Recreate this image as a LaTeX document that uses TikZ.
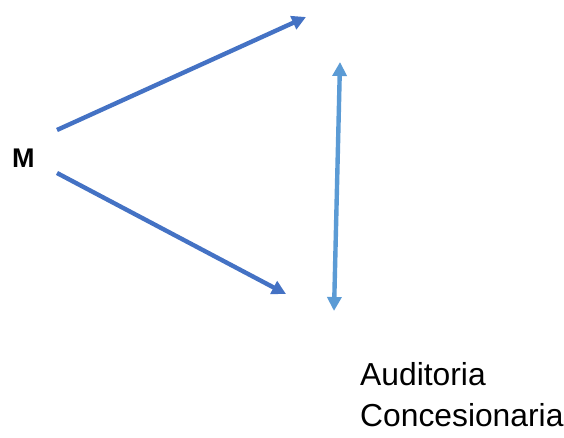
\documentclass[tikz,border=0pt]{standalone}
\usepackage{fontspec}
\setmainfont{Liberation Sans}
\usetikzlibrary{arrows.meta}
\definecolor{darkblue}{HTML}{4472C4}
\definecolor{lightblue}{HTML}{5B9BD5}
\tikzset{
  arr/.style={draw=darkblue, line width=4.4pt, -{Triangle[length=14pt,width=14pt]}},
  dbl/.style={draw=lightblue, line width=4.4pt, {Triangle[length=14pt,width=14pt]}-{Triangle[length=14pt,width=14pt]}},
  lbl/.style={inner sep=0pt, anchor=base west}
}
\begin{document}
\begin{tikzpicture}[x=1pt,y=-1pt]
\useasboundingbox (0,0) rectangle (564,438);
\node[lbl, font=\bfseries\fontsize{27}{27}\selectfont] (M) at (12,168) {M};
\node[lbl, font=\fontsize{31.8}{31.8}\selectfont] (A) at (360,385) {Auditoria};
\node[lbl, font=\fontsize{31.8}{31.8}\selectfont] (C) at (360,426) {Concesionaria};
\coordinate (s1) at (57,130);
\coordinate (e1) at (306,17);
\coordinate (s2) at (57,173);
\coordinate (e2) at (286,294);
\coordinate (t) at (340,62);
\coordinate (b) at (334,311);
\draw[arr] (s1) -- (e1);
\draw[arr] (s2) -- (e2);
\draw[dbl] (t) -- (b);
\end{tikzpicture}
\end{document}
